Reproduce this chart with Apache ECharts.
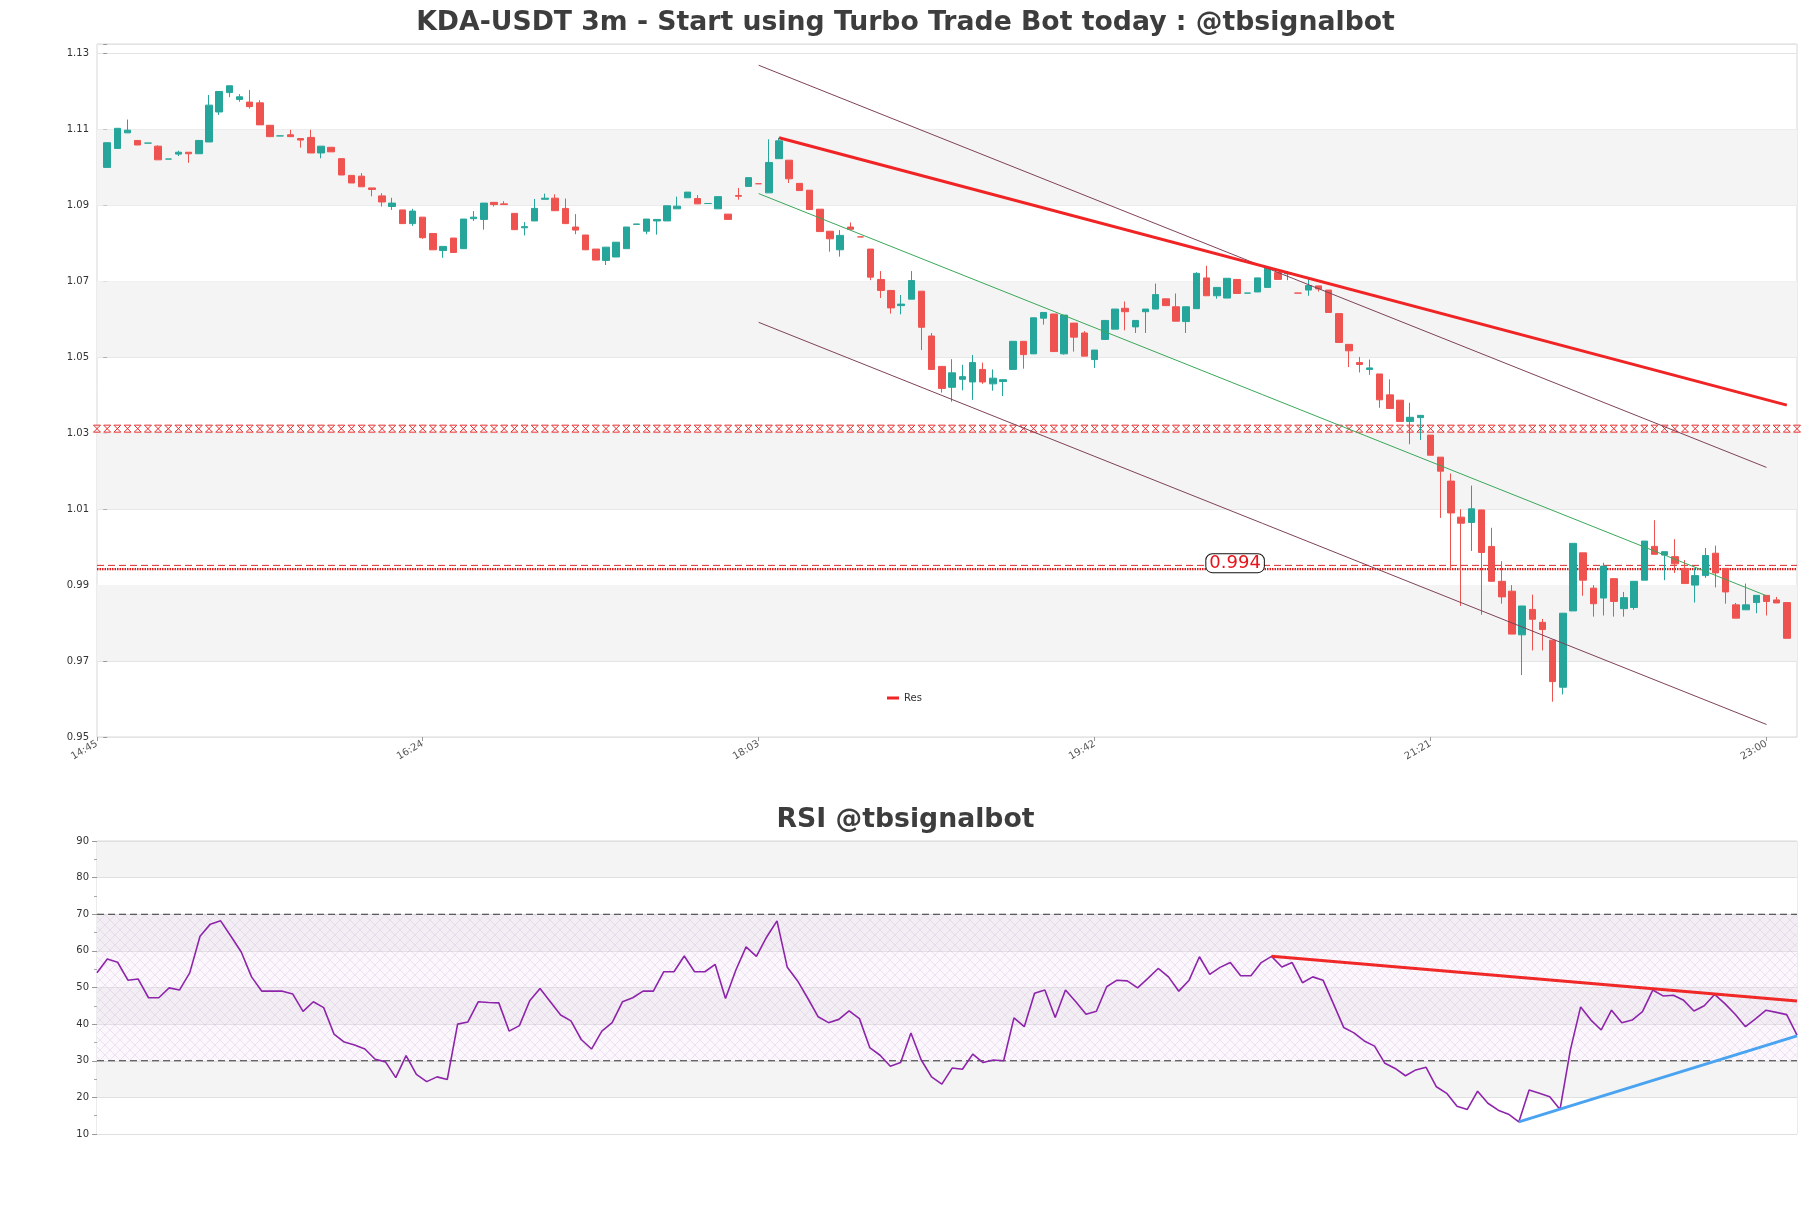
<!DOCTYPE html>
<html><head><meta charset="utf-8">
<script src="https://cdn.jsdelivr.net/npm/echarts@6/dist/echarts.min.js"></script>
<style>html,body{margin:0;padding:0;background:#fff}#c{width:1811px;height:1208px}</style>
</head><body><div id="c"></div><script>
const opens=[1.1000,1.1050,1.1091,1.1071,1.1064,1.1056,1.1022,1.1035,1.1040,1.1036,
1.1067,1.1146,1.1197,1.1179,1.1172,1.1170,1.1111,1.1083,1.1086,1.1076,
1.1079,1.1038,1.1053,1.1023,1.0979,1.0977,1.0946,1.0925,1.0897,1.0888,
1.0852,1.0869,1.0826,1.0781,1.0814,1.0786,1.0865,1.0863,1.0908,1.0904,
1.0879,1.0841,1.0859,1.0916,1.0919,1.0892,1.0843,1.0822,1.0785,1.0755,
1.0764,1.0786,1.0850,1.0832,1.0859,1.0859,1.0891,1.0920,1.0918,1.0905,
1.0891,1.0877,1.0926,1.0950,1.0957,1.0933,1.1023,1.1019,1.0958,1.0940,
1.0890,1.0832,1.0783,1.0843,1.0817,1.0785,1.0705,1.0676,1.0636,1.0653,
1.0674,1.0556,1.0476,1.0421,1.0442,1.0435,1.0468,1.0430,1.0436,1.0468,
1.0542,1.0509,1.0603,1.0614,1.0509,1.0590,1.0564,1.0494,1.0547,1.0574,
1.0629,1.0580,1.0620,1.0627,1.0654,1.0633,1.0594,1.0628,1.0709,1.0662,
1.0656,1.0705,1.0669,1.0672,1.0684,1.0723,1.0720,1.0669,1.0677,1.0688,
1.0677,1.0615,1.0534,1.0486,1.0468,1.0456,1.0401,1.0387,1.0331,1.0341,
1.0295,1.0237,1.0174,1.0079,1.0065,1.0098,1.0002,0.9910,0.9884,0.9769,
0.9836,0.9802,0.9755,0.9631,0.9832,0.9985,0.9892,0.9866,0.9917,0.9838,
0.9841,0.9913,1.0002,0.9979,0.9975,0.9944,0.9900,0.9925,0.9984,0.9944,
0.9848,0.9835,0.9854,0.9873,0.9861,0.9854];
const closes=[1.1065,1.1103,1.1098,1.1059,1.1064,1.1020,1.1022,1.1040,1.1036,1.1071,
1.1164,1.1200,1.1215,1.1186,1.1160,1.1112,1.1081,1.1083,1.1081,1.1072,
1.1038,1.1056,1.1041,1.0980,1.0959,1.0949,1.0942,1.0909,1.0906,1.0852,
1.0885,1.0815,1.0783,1.0792,1.0776,1.0864,1.0869,1.0906,1.0902,1.0902,
1.0836,1.0844,1.0892,1.0919,1.0886,1.0852,1.0835,1.0783,1.0756,1.0790,
1.0803,1.0843,1.0851,1.0864,1.0863,1.0899,1.0898,1.0935,1.0904,1.0905,
1.0923,1.0863,1.0924,1.0973,1.0957,1.1013,1.1070,1.0970,1.0939,1.0889,
1.0831,1.0812,1.0821,1.0837,1.0817,1.0711,1.0676,1.0630,1.0640,1.0702,
1.0579,1.0468,1.0418,1.0459,1.0449,1.0486,1.0435,1.0445,1.0441,1.0542,
1.0507,1.0604,1.0618,1.0515,1.0611,1.0553,1.0503,1.0519,1.0597,1.0627,
1.0620,1.0597,1.0627,1.0665,1.0636,1.0595,1.0633,1.0721,1.0662,1.0684,
1.0708,1.0668,1.0669,1.0709,1.0736,1.0705,1.0723,1.0669,1.0689,1.0680,
1.0618,1.0539,1.0517,1.0481,1.0472,1.0388,1.0365,1.0331,1.0342,1.0347,
1.0242,1.0200,1.0090,1.0063,1.0101,0.9986,0.9910,0.9869,0.9771,0.9845,
0.9810,0.9783,0.9646,0.9826,1.0010,0.9913,0.9851,0.9950,0.9857,0.9867,
0.9910,1.0016,0.9981,0.9988,0.9956,0.9904,0.9925,0.9978,0.9932,0.9882,
0.9813,0.9848,0.9873,0.9857,0.9853,0.9760];
const highs=[1.1065,1.1103,1.1126,1.1071,1.1064,1.1058,1.1022,1.1044,1.1040,1.1071,
1.1191,1.1200,1.1215,1.1193,1.1204,1.1177,1.1111,1.1083,1.1099,1.1076,
1.1099,1.1056,1.1053,1.1023,1.0979,1.0985,1.0946,1.0932,1.0920,1.0888,
1.0891,1.0869,1.0826,1.0792,1.0814,1.0864,1.0885,1.0906,1.0908,1.0911,
1.0879,1.0856,1.0917,1.0931,1.0929,1.0918,1.0877,1.0822,1.0785,1.0790,
1.0803,1.0843,1.0851,1.0864,1.0863,1.0899,1.0923,1.0935,1.0927,1.0905,
1.0923,1.0877,1.0946,1.0973,1.0957,1.1074,1.1078,1.1019,1.0958,1.0940,
1.0890,1.0832,1.0835,1.0855,1.0817,1.0785,1.0727,1.0676,1.0664,1.0727,
1.0674,1.0564,1.0476,1.0495,1.0480,1.0506,1.0486,1.0468,1.0441,1.0542,
1.0542,1.0604,1.0618,1.0614,1.0611,1.0590,1.0569,1.0519,1.0597,1.0627,
1.0647,1.0597,1.0627,1.0694,1.0654,1.0668,1.0633,1.0724,1.0741,1.0684,
1.0708,1.0705,1.0669,1.0709,1.0738,1.0723,1.0727,1.0669,1.0707,1.0688,
1.0677,1.0615,1.0534,1.0501,1.0494,1.0456,1.0442,1.0387,1.0380,1.0347,
1.0295,1.0237,1.0194,1.0100,1.0162,1.0098,1.0051,0.9963,0.9900,0.9845,
0.9875,0.9811,0.9755,0.9826,1.0010,0.9985,0.9900,0.9959,0.9917,0.9882,
0.9910,1.0016,1.0071,0.9988,1.0021,0.9966,0.9944,0.9998,1.0004,0.9944,
0.9853,0.9904,0.9873,0.9873,0.9869,0.9854];
const lows=[1.1000,1.1050,1.1091,1.1059,1.1064,1.1020,1.1022,1.1030,1.1012,1.1036,
1.1067,1.1138,1.1185,1.1173,1.1155,1.1112,1.1081,1.1083,1.1081,1.1052,
1.1038,1.1024,1.1041,1.0980,1.0959,1.0949,1.0924,1.0897,1.0888,1.0852,
1.0846,1.0812,1.0783,1.0762,1.0776,1.0785,1.0859,1.0836,1.0897,1.0902,
1.0836,1.0821,1.0859,1.0916,1.0886,1.0852,1.0824,1.0783,1.0756,1.0743,
1.0764,1.0786,1.0850,1.0824,1.0823,1.0859,1.0891,1.0920,1.0904,1.0905,
1.0891,1.0863,1.0915,1.0950,1.0957,1.0933,1.1023,1.0959,1.0939,1.0889,
1.0831,1.0778,1.0765,1.0837,1.0817,1.0703,1.0656,1.0615,1.0613,1.0653,
1.0519,1.0468,1.0407,1.0383,1.0413,1.0388,1.0430,1.0412,1.0398,1.0468,
1.0470,1.0509,1.0586,1.0515,1.0507,1.0515,1.0503,1.0472,1.0547,1.0574,
1.0571,1.0564,1.0564,1.0627,1.0636,1.0595,1.0564,1.0628,1.0662,1.0654,
1.0656,1.0668,1.0669,1.0672,1.0684,1.0705,1.0703,1.0669,1.0662,1.0673,
1.0618,1.0539,1.0474,1.0460,1.0454,1.0367,1.0365,1.0331,1.0271,1.0282,
1.0242,1.0077,0.9942,0.9845,0.9990,0.9822,0.9910,0.9851,0.9771,0.9663,
0.9728,0.9728,0.9593,0.9612,0.9832,0.9872,0.9817,0.9820,0.9817,0.9817,
0.9835,0.9913,0.9981,0.9913,0.9932,0.9904,0.9854,0.9919,0.9894,0.9851,
0.9813,0.9835,0.9826,0.9820,0.9853,0.9760];
const rsi=[54.0,57.8,56.9,52.0,52.3,47.2,47.2,49.9,49.3,54.0,
64.0,67.3,68.2,64.0,59.7,52.9,49.0,49.0,49.0,48.2,
43.5,46.1,44.5,37.3,35.1,34.3,33.2,30.4,29.7,25.4,
31.4,26.3,24.3,25.6,24.9,40.0,40.6,46.1,45.9,45.8,
38.1,39.6,46.4,49.7,46.1,42.5,40.9,35.8,33.2,38.1,
40.4,46.1,47.2,49.0,49.0,54.3,54.3,58.6,54.3,54.3,
56.3,47.0,54.7,61.1,58.5,63.8,68.2,55.5,51.8,47.0,
42.0,40.4,41.3,43.6,41.5,33.6,31.5,28.5,29.5,37.6,
30.2,25.6,23.6,28.0,27.7,31.8,29.5,30.2,30.0,41.7,
39.3,48.4,49.3,41.8,49.3,46.1,42.7,43.5,50.2,52.0,
51.8,49.9,52.5,55.2,52.9,49.0,52.0,58.4,53.6,55.5,
56.8,53.2,53.2,56.8,58.5,55.6,56.8,51.3,52.9,52.0,
45.6,39.1,37.6,35.4,34.0,29.3,27.9,25.9,27.5,28.2,
22.9,21.1,17.6,16.7,21.7,18.4,16.5,15.4,13.3,22.0,
21.1,20.2,16.7,32.9,44.7,41.1,38.4,43.8,40.4,41.1,
43.4,49.3,47.7,47.9,46.5,43.6,45.0,48.1,45.6,42.7,
39.3,41.5,43.8,43.2,42.6,37.0];

const xTickIdx=[-2,31,64,97,130,163];
const xTickLabels=['14:45','16:24','18:03','19:42','21:21','23:00'];
const priceTicks=['0.95','0.97','0.99','1.01','1.03','1.05','1.07','1.09','1.11','1.13'];
const priceBandsGray=[[0.97,0.99],[1.01,1.03],[1.05,1.07],[1.09,1.11]];
const resTrendX=[66,165], resTrendY=[1.1078,1.0374];
const channelX=[64,163];
const chUpperY=[1.1269,1.0210], chMidY=[1.0931,0.9872], chLowerY=[1.0592,0.9533];
const hatchLevel=1.0312, dashLevel=0.9952, dotLevel=0.9942, dotLabel='0.994', dotLabelIdx=110.8;
const rsiResX=[114,165], rsiResY=[58.5,46.3];
const rsiSupX=[138,165], rsiSupY=[13.3,36.8];
const rsiLevels=[30,70];

const X_MIN=-1, X_MAX=166;
const RED='#ef5350', TEAL='#26a69a';

const candleData=opens.map((o,i)=>[i,o,closes[i],lows[i],highs[i]]);
const pair=(xs,ys)=>xs.map((x,i)=>[x,ys[i]]);
const level=v=>[[X_MIN,v],[X_MAX,v]];
const hatchData=[];
for(let i=X_MIN;i<=X_MAX;i++) hatchData.push([i,hatchLevel]);
const labelTicks=xTickIdx.map(v=>Math.max(v,X_MIN));

// crosshatch pattern for RSI band
const pc=document.createElement('canvas'); pc.width=10; pc.height=10;
const g=pc.getContext('2d');
g.fillStyle='rgba(236,220,240,0.22)'; g.fillRect(0,0,10,10);
g.strokeStyle='rgba(195,170,210,0.4)'; g.lineWidth=0.7;
g.beginPath(); g.moveTo(0,0); g.lineTo(10,10); g.moveTo(10,0); g.lineTo(0,10); g.stroke();

const chart=echarts.init(document.getElementById('c'),null,{renderer:'canvas'});
const titleStyle={fontFamily:'DejaVu Sans',fontWeight:'bold',fontSize:26.7,color:'#3d3d3d'};
chart.setOption({
  animation:false,
  backgroundColor:'#ffffff',
  title:[
    {text:'KDA-USDT 3m - Start using Turbo Trade Bot today : @tbsignalbot',left:'center',top:5,textStyle:titleStyle},
    {text:'RSI @tbsignalbot',left:'center',top:802,textStyle:titleStyle}
  ],
  legend:{data:['Res'],left:882,top:688,icon:'rect',itemWidth:12,itemHeight:3,
    textStyle:{fontFamily:'DejaVu Sans',fontSize:10,color:'#333'}},
  grid:[
    {left:97,top:44,width:1700,height:693,show:true,borderColor:'#d8d8d8',borderWidth:1},
    {left:97,top:841,width:1700,height:293,show:true,borderColor:'#d8d8d8',borderWidth:1}
  ],
  xAxis:[
    {type:'value',gridIndex:0,min:X_MIN,max:X_MAX,
     axisLine:{show:false},splitLine:{show:false},
     axisTick:{show:true,customValues:labelTicks,length:4,lineStyle:{color:'#999'}},
     axisLabel:{show:true,customValues:labelTicks,rotate:30,margin:6,fontFamily:'DejaVu Sans',fontSize:10,color:'#555',
       formatter:v=>{const k=labelTicks.findIndex(t=>Math.abs(t-v)<1e-6);return k>=0?xTickLabels[k]:'';}}},
    {type:'value',gridIndex:1,min:0,max:rsi.length-1,
     axisLine:{show:false},axisTick:{show:false},axisLabel:{show:false},splitLine:{show:false}}
  ],
  yAxis:[
    {type:'value',gridIndex:0,min:0.95,max:1.1325,interval:0.02,
     axisLine:{show:false},
     axisTick:{show:true,length:4,lineStyle:{color:'#999'}},
     axisLabel:{fontFamily:'DejaVu Sans',fontSize:10,color:'#333',margin:8,
       formatter:v=>{const s=v.toFixed(2);return priceTicks.includes(s)&&Math.abs(v-parseFloat(s))<1e-6?s:'';}},
     splitLine:{show:true,lineStyle:{color:'#e4e4e4',width:1}},
     splitArea:{show:false}},
    {type:'value',gridIndex:1,min:10,max:90,interval:10,
     axisLine:{show:false},
     axisTick:{show:true,length:5,lineStyle:{color:'#999'}},
     minorTick:{show:true,splitNumber:2,length:3,lineStyle:{color:'#aaa'}},
     axisLabel:{fontFamily:'DejaVu Sans',fontSize:10,color:'#333',margin:8},
     splitLine:{show:true,lineStyle:{color:'#e0e0e0',width:1}},
     splitArea:{show:true,areaStyle:{color:['#ffffff','#f4f4f4']}}}
  ],
  series:[
    {name:'bands',type:'line',xAxisIndex:0,yAxisIndex:0,data:[],silent:true,z:0,
     markArea:{silent:true,itemStyle:{color:'#f4f4f4'},
       data:priceBandsGray.map(b=>[{yAxis:b[0]},{yAxis:b[1]}])}},
    {name:'hatch',type:'line',xAxisIndex:0,yAxisIndex:0,data:hatchData,silent:true,
     lineStyle:{width:0,opacity:0},showSymbol:true,showAllSymbol:true,
     symbol:'path://M0,0L10,0M0,10L10,10M0,0L10,10M10,0L0,10',symbolSize:[7,7],
     itemStyle:{color:'rgba(0,0,0,0)',borderColor:'#e53030',borderWidth:1},z:3},
    {name:'dashLevel',type:'line',xAxisIndex:0,yAxisIndex:0,data:level(dashLevel),showSymbol:false,silent:true,
     lineStyle:{color:'#d42a2a',width:1,type:[7,4]},z:3},
    {name:'dotLevel',type:'line',xAxisIndex:0,yAxisIndex:0,data:level(dotLevel),showSymbol:false,silent:true,
     lineStyle:{color:'#e01818',width:2.2,type:[1.5,1]},z:3,
     markPoint:{silent:true,symbol:'rect',symbolSize:1,itemStyle:{color:'rgba(0,0,0,0)'},
       data:[{coord:[dotLabelIdx,dotLevel],value:dotLabel}],
       label:{show:true,position:'inside',offset:[0,-6],formatter:dotLabel,color:'#e8141c',
         fontFamily:'DejaVu Sans',fontSize:18,backgroundColor:'#ffffff',borderColor:'#111',borderWidth:1,
         borderRadius:6,padding:[0,3,0,3]}}},
    {name:'candles',type:'candlestick',xAxisIndex:0,yAxisIndex:0,data:candleData,
     barWidth:7,
     itemStyle:{color:TEAL,color0:RED,borderColor:TEAL,borderColor0:RED,borderWidth:1},
     z:5},
    {name:'chUpper',type:'line',xAxisIndex:0,yAxisIndex:0,data:pair(channelX,chUpperY),showSymbol:false,silent:true,
     lineStyle:{color:'#7e4258',width:1},z:6},
    {name:'chMid',type:'line',xAxisIndex:0,yAxisIndex:0,data:pair(channelX,chMidY),showSymbol:false,silent:true,
     lineStyle:{color:'#3aa85a',width:1},z:6},
    {name:'chLower',type:'line',xAxisIndex:0,yAxisIndex:0,data:pair(channelX,chLowerY),showSymbol:false,silent:true,
     lineStyle:{color:'#7e4258',width:1},z:6},
    {name:'Res',type:'line',xAxisIndex:0,yAxisIndex:0,data:pair(resTrendX,resTrendY),showSymbol:false,silent:true,
     color:'#f02424',lineStyle:{color:'#f02424',width:3},z:7},
    {name:'RSI',type:'line',xAxisIndex:1,yAxisIndex:1,data:rsi.map((v,i)=>[i,v]),showSymbol:false,silent:true,
     lineStyle:{color:'#8e24aa',width:1.6},z:4,
     markArea:{silent:true,itemStyle:{color:{image:pc,repeat:'repeat'}},data:[[{yAxis:rsiLevels[0]},{yAxis:rsiLevels[1]}]]}},
    {name:'rsi30',type:'line',xAxisIndex:1,yAxisIndex:1,data:[[0,rsiLevels[0]],[rsi.length-1,rsiLevels[0]]],showSymbol:false,silent:true,
     lineStyle:{color:'#333',width:1,type:[7,4]},z:3},
    {name:'rsi70',type:'line',xAxisIndex:1,yAxisIndex:1,data:[[0,rsiLevels[1]],[rsi.length-1,rsiLevels[1]]],showSymbol:false,silent:true,
     lineStyle:{color:'#333',width:1,type:[7,4]},z:3},
    {name:'rsiRes',type:'line',xAxisIndex:1,yAxisIndex:1,data:pair(rsiResX,rsiResY),showSymbol:false,silent:true,
     lineStyle:{color:'#f02828',width:3},z:5},
    {name:'rsiSup',type:'line',xAxisIndex:1,yAxisIndex:1,data:pair(rsiSupX,rsiSupY),showSymbol:false,silent:true,
     lineStyle:{color:'#4aa3f0',width:3},z:5}
  ]
});
</script></body></html>
